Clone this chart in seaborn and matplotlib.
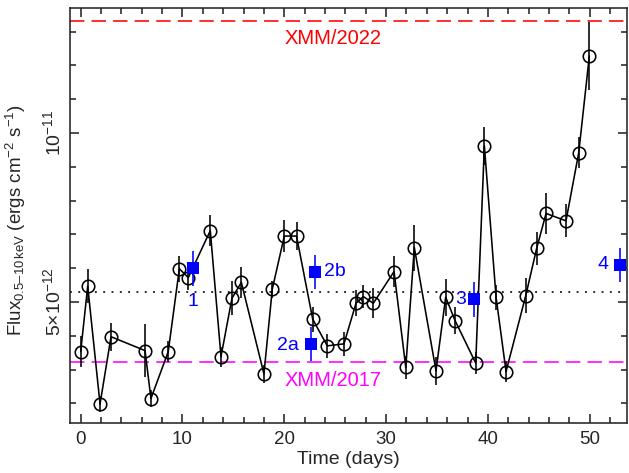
import matplotlib
matplotlib.use("Agg")
import matplotlib.pyplot as plt
import seaborn as sns
import pandas as pd
import numpy as np

# ---- data (flux in units of 1e-12 erg cm^-2 s^-1) ----
days = [0.0, 0.69, 1.9, 2.98, 6.32, 6.9, 8.6, 9.69, 10.57, 12.73, 13.78, 14.86,
        15.78, 18.0, 18.82, 20.0, 21.2, 22.79, 24.22, 25.86, 27.04, 27.76, 28.74,
        30.78, 31.93, 32.77, 34.9, 35.85, 36.77, 38.8, 39.65, 40.8, 41.78, 43.71,
        44.79, 45.71, 47.67, 48.92, 49.96]
flux = [3.53, 5.47, 1.98, 3.97, 3.56, 2.14, 3.53, 5.98, 5.72, 7.11, 3.38, 5.11,
        5.58, 2.87, 5.38, 6.95, 6.95, 4.49, 3.70, 3.76, 4.96, 5.16, 4.96,
        5.90, 3.06, 6.61, 2.96, 5.14, 4.45, 3.19, 9.62, 5.14, 2.94, 5.18,
        6.59, 7.62, 7.40, 9.42, 12.28]
flux_err = [0.47, 0.50, 0.25, 0.42, 0.78, 0.25, 0.31, 0.38, 0.36, 0.46, 0.30, 0.50,
            0.46, 0.27, 0.25, 0.47, 0.42, 0.37, 0.36, 0.35, 0.38, 0.34, 0.44,
            0.46, 0.35, 0.68, 0.42, 0.55, 0.39, 0.32, 0.57, 0.37, 0.32, 0.52,
            0.49, 0.60, 0.49, 0.47, 1.00]

sq_days = [11.06, 22.6, 23.05, 38.67, 52.98]
sq_flux = [6.00, 3.75, 5.89, 5.08, 6.09]
sq_err = [0.52, 0.51, 0.51, 0.52, 0.51]
sq_labels = ["1", "2a", "2b", "3", "4"]
sq_label_x = [11.03, 20.33, 24.98, 37.36, 51.34]
sq_label_y = [5.01, 3.70, 5.89, 5.08, 6.12]

xmm2022 = 13.32
xmm2017 = 3.21
mean_level = 5.30

SCALE = 1e-12

sns.set_style("ticks")
plt.rcParams['font.family'] = ['Liberation Sans', 'DejaVu Sans']
plt.rcParams['mathtext.fontset'] = 'custom'
plt.rcParams['mathtext.rm'] = 'Liberation Sans'
plt.rcParams['mathtext.it'] = 'Liberation Sans:italic'
plt.rcParams['mathtext.bf'] = 'Liberation Sans:bold'

fig = plt.figure(figsize=(6.29, 4.73), dpi=100)
ax = fig.add_axes([70/629, 1-423/473, (627-70)/629, (423-8)/473])

df = pd.DataFrame({"day": days, "flux": np.array(flux) * SCALE,
                   "err": np.array(flux_err) * SCALE})
dsq = pd.DataFrame({"day": sq_days, "flux": np.array(sq_flux) * SCALE,
                    "err": np.array(sq_err) * SCALE})

lw = 1.15
# reference lines
ax.axhline(xmm2022 * SCALE, color='red', lw=lw, ls=(0, (9, 4.5)), zorder=1)
ax.axhline(xmm2017 * SCALE, color='magenta', lw=lw, ls=(0, (9, 4.5)), zorder=1)
ax.axhline(mean_level * SCALE, color='black', lw=lw, ls=(0, (1.2, 4)), zorder=1)

# light curve
ax.errorbar(df["day"], df["flux"], yerr=df["err"], fmt='none', ecolor='black',
            elinewidth=lw, capsize=0, zorder=3)
sns.lineplot(data=df, x="day", y="flux", sort=False, estimator=None, color='black',
             lw=lw, marker='o', markersize=9, markerfacecolor='none',
             markeredgecolor='black', markeredgewidth=lw, ax=ax, zorder=2)

# blue squares
ax.errorbar(dsq["day"], dsq["flux"], yerr=dsq["err"], fmt='none', ecolor='blue',
            elinewidth=lw, capsize=0, zorder=4)
sns.scatterplot(data=dsq, x="day", y="flux", marker='s', s=85, color='blue',
                edgecolor='blue', linewidth=0, ax=ax, zorder=5)
for lab, lx, ly in zip(sq_labels, sq_label_x, sq_label_y):
    ax.text(lx, ly * SCALE, lab, color='blue', fontsize=14, ha='center', va='center')

ax.text(24.83, 12.81 * SCALE, "XMM/2022", color='red', fontsize=14.5,
        ha='center', va='center')
ax.text(24.83, 2.68 * SCALE, "XMM/2017", color='magenta', fontsize=14.5,
        ha='center', va='center')

ax.set_xlim(-1.05, 53.66)
ax.set_ylim(1.417 * SCALE, 13.70 * SCALE)

ax.tick_params(which='both', direction='in', top=True, right=True, width=lw,
               labelsize=13.5)
ax.tick_params(which='major', length=6.5)
ax.tick_params(which='minor', length=4)
ax.tick_params(axis='y', pad=4)
ax.tick_params(axis='x', pad=6)

ax.set_xticks([0, 10, 20, 30, 40, 50])
ax.set_xticks(np.arange(0, 54, 2), minor=True)
ax.set_yticks([5 * SCALE, 10 * SCALE])
ax.set_yticklabels([r"$5{\times}10^{-12}$", r"$10^{-11}$"], rotation=90,
                   va='center', fontsize=14)
ax.set_yticks(np.arange(2, 14) * SCALE, minor=True)

for s in ax.spines.values():
    s.set_linewidth(lw)

ax.set_xlabel("Time (days)", fontsize=14, labelpad=2)
ax.set_ylabel("Flux$_{\\mathrm{0.5\u201310\\,keV}}$ (ergs cm$^{-2}$ s$^{-1}$)",
              fontsize=13.5)
ax.yaxis.set_label_coords(-0.076, 0.49)

fig.savefig("out.png", dpi=100)
